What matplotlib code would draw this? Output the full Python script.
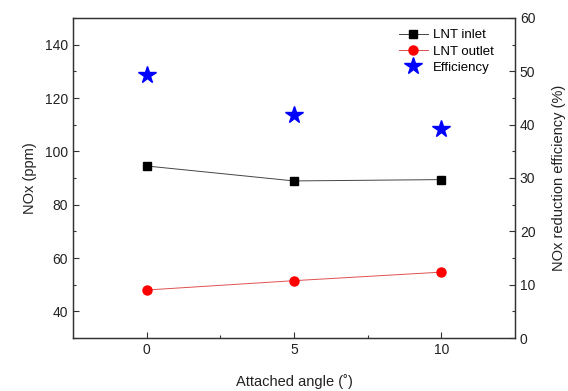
import matplotlib.pyplot as plt

plt.rcParams['font.family'] = ['Liberation Sans', 'DejaVu Sans']
plt.rcParams['xtick.direction'] = 'in'
plt.rcParams['ytick.direction'] = 'in'

angle = [0, 5, 10]
lnt_inlet = [94.5, 88.9, 89.4]
lnt_outlet = [48.0, 51.5, 54.7]
efficiency = [49.3, 41.8, 39.2]

fig = plt.figure(figsize=(5.68, 3.91), dpi=100)
ax = fig.add_axes([73 / 568, 53 / 391, 442 / 568, 320 / 391])
ax2 = ax.twinx()

l1, = ax.plot(angle, lnt_inlet, color='#444444', lw=0.7, marker='s', ms=6,
              mfc='black', mec='black', label='LNT inlet')
l2, = ax.plot(angle, lnt_outlet, color='#e05050', lw=0.7, marker='o', ms=6.5,
              mfc='red', mec='red', label='LNT outlet')
l3, = ax2.plot(angle, efficiency, ls='none', marker='*', ms=13,
               color='blue', label='Efficiency')

ax.set_xlim(-2.5, 12.5)
ax.set_ylim(30, 150)
ax2.set_ylim(0, 60)
ax.set_xticks([0, 5, 10])
ax.set_xticks([2.5, 7.5], minor=True)
ax.set_yticks([40, 60, 80, 100, 120, 140])
ax.set_yticks(range(30, 151, 10), minor=True)
ax2.set_yticks(range(0, 61, 10))
ax2.set_yticks(range(5, 60, 10), minor=True)

for a in (ax, ax2):
    a.tick_params(labelsize=10, length=4, width=0.8, colors='#333333', labelcolor='#222222')
    a.tick_params(which='minor', length=2.5, width=0.8, colors='#333333')
    for s in a.spines.values():
        s.set_linewidth(0.9)
        s.set_color('#333333')
ax.tick_params(top=False)

ax.set_xlabel('Attached angle (˚)', fontsize=10.5, color='#222222', labelpad=12)
ax.set_ylabel('NOx (ppm)', fontsize=10.5, color='#222222', labelpad=6)
ax2.set_ylabel('NOx reduction efficiency (%)', fontsize=10.5, color='#222222', labelpad=12)

ax.legend([l1, l2, l3], ['LNT inlet', 'LNT outlet', 'Efficiency'],
          loc='upper right', bbox_to_anchor=(0.97, 0.99), frameon=False,
          fontsize=9.5, handlelength=2.2, borderaxespad=0.2,
          labelspacing=0.3, handletextpad=0.4)

fig.savefig('out.png', dpi=100)
